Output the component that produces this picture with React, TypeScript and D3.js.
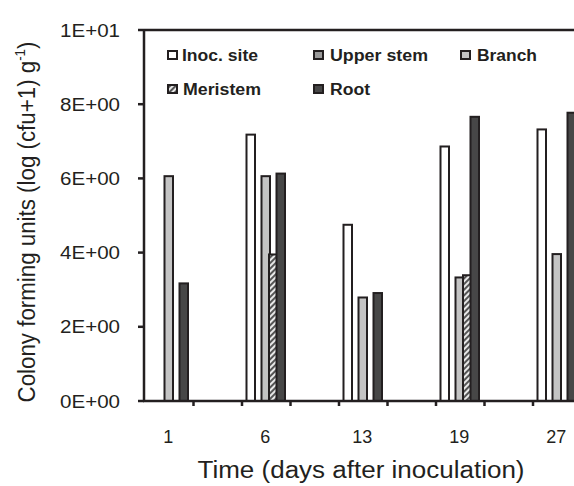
import React from "react";
import * as d3 from "d3";

const days = ["1", "6", "13", "19", "27"];
const seriesNames = ["Inoc. site", "Upper stem", "Branch", "Meristem", "Root"];
const inocSite = [0, 7.18, 4.75, 6.86, 7.32];
const upperStem = [0, 0, 0, 0, 0];
const branch = [6.06, 6.06, 2.79, 3.33, 3.96];
const meristem = [0, 3.95, 0, 3.39, 0];
const root = [3.17, 6.13, 2.91, 7.66, 7.77];
const yTicks = [0, 2, 4, 6, 8, 10];
const yTickLabels = ["0E+00", "2E+00", "4E+00", "6E+00", "8E+00", "1E+01"];

const W = 574;
const H = 486;
const INK = "#231f20";

export default function App() {
  const seriesValues = [inocSite, upperStem, branch, meristem, root];
  const fills = ["#ffffff", "#9a9a9a", "#c4c4c4", "url(#hatch)", "#474747"];
  // 10 slots: each day followed by an empty slot
  const slots = d3.range(10).map(String);
  const x = d3.scaleBand<string>().domain(slots).range([145, 145 + 48.5 * 10]).padding(0);
  const y = d3.scaleLinear().domain([0, 10]).range([401, 30]);
  const sx = d3.scaleLinear().domain([0, 4]).range([4.5, 34.5]);
  const barW = 8.5;

  const legendItems = [
    { name: seriesNames[0], fill: fills[0], ix: 168, tx: 182, ty: 55, tl: 76 },
    { name: seriesNames[1], fill: fills[1], ix: 314, tx: 330, ty: 55, tl: 98 },
    { name: seriesNames[2], fill: fills[2], ix: 461, tx: 477, ty: 55, tl: 60 },
    { name: seriesNames[3], fill: fills[3], ix: 168, tx: 183, ty: 89, tl: 78 },
    { name: seriesNames[4], fill: fills[4], ix: 314, tx: 330, ty: 89, tl: 40 },
  ];

  return (
    <svg
      width={W}
      height={H}
      style={{ position: "absolute", left: 0, top: 0, background: "#fff" }}
      fontFamily="Liberation Sans, Arial, sans-serif"
    >
      <defs>
        <pattern id="hatch" width="4" height="4" patternUnits="userSpaceOnUse" patternTransform="rotate(45)">
          <rect width="4" height="4" fill="#e8e8e8" />
          <rect width="2" height="4" fill="#555" />
        </pattern>
      </defs>
      <rect x={0} y={0} width={W} height={H} fill="#fff" />

      {/* bars */}
      {seriesValues.map((vals, si) =>
        vals.map((v, di) =>
          v > 0 ? (
            <rect
              key={`${si}-${di}`}
              x={(x(String(di * 2)) as number) + sx(si)}
              y={y(v)}
              width={barW}
              height={y(0) - y(v)}
              fill={fills[si]}
              stroke={INK}
              strokeWidth={2}
            />
          ) : null
        )
      )}

      {/* axes */}
      <line x1={144} x2={W} y1={30} y2={30} stroke={INK} strokeWidth={2.5} />
      <line x1={144} x2={144} y1={29} y2={402} stroke={INK} strokeWidth={2.5} />
      <line x1={143} x2={W} y1={401} y2={401} stroke={INK} strokeWidth={2.5} />
      {yTicks.map((t, i) => (
        <g key={t}>
          <line x1={138} x2={144} y1={y(t)} y2={y(t)} stroke={INK} strokeWidth={2.5} />
          <text
            x={120}
            y={y(t) + 6.5}
            textAnchor="end"
            fontSize={18}
            fill={INK}
            textLength={60}
            lengthAdjust="spacingAndGlyphs"
          >
            {yTickLabels[i]}
          </text>
        </g>
      ))}
      {d3.range(11).map((k) => {
        const xx = 145 + 48.5 * k;
        return k > 0 && xx < W ? (
          <line key={k} x1={xx} x2={xx} y1={401} y2={406} stroke={INK} strokeWidth={2.5} />
        ) : null;
      })}
      {days.map((d, i) => (
        <text
          key={d}
          x={(x(String(i * 2)) as number) + x.bandwidth() / 2 - 1}
          y={443}
          textAnchor="middle"
          fontSize={18}
          fill={INK}
        >
          {d}
        </text>
      ))}

      {/* axis titles */}
      <text
        x={361}
        y={478}
        textAnchor="middle"
        fontSize={23}
        fill={INK}
        textLength={327}
        lengthAdjust="spacingAndGlyphs"
      >
        Time (days after inoculation)
      </text>
      <text
        transform="translate(35,222) rotate(-90) scale(0.95,1)"
        textAnchor="middle"
        fontSize={23.5}
        fill={INK}
      >
        Colony forming units (log (cfu+1) g
        <tspan fontSize={14} dy={-10}>-1</tspan>
        <tspan dy={10}>)</tspan>
      </text>

      {/* legend */}
      {legendItems.map((it) => (
        <g key={it.name}>
          <rect x={it.ix} y={it.ty - 4} width={9} height={8} fill={it.fill} stroke={INK} strokeWidth={2} />
          <text
            x={it.tx}
            y={it.ty + 6}
            fontSize={16}
            fontWeight="bold"
            fill={INK}
            textLength={it.tl}
            lengthAdjust="spacingAndGlyphs"
          >
            {it.name}
          </text>
        </g>
      ))}
    </svg>
  );
}
